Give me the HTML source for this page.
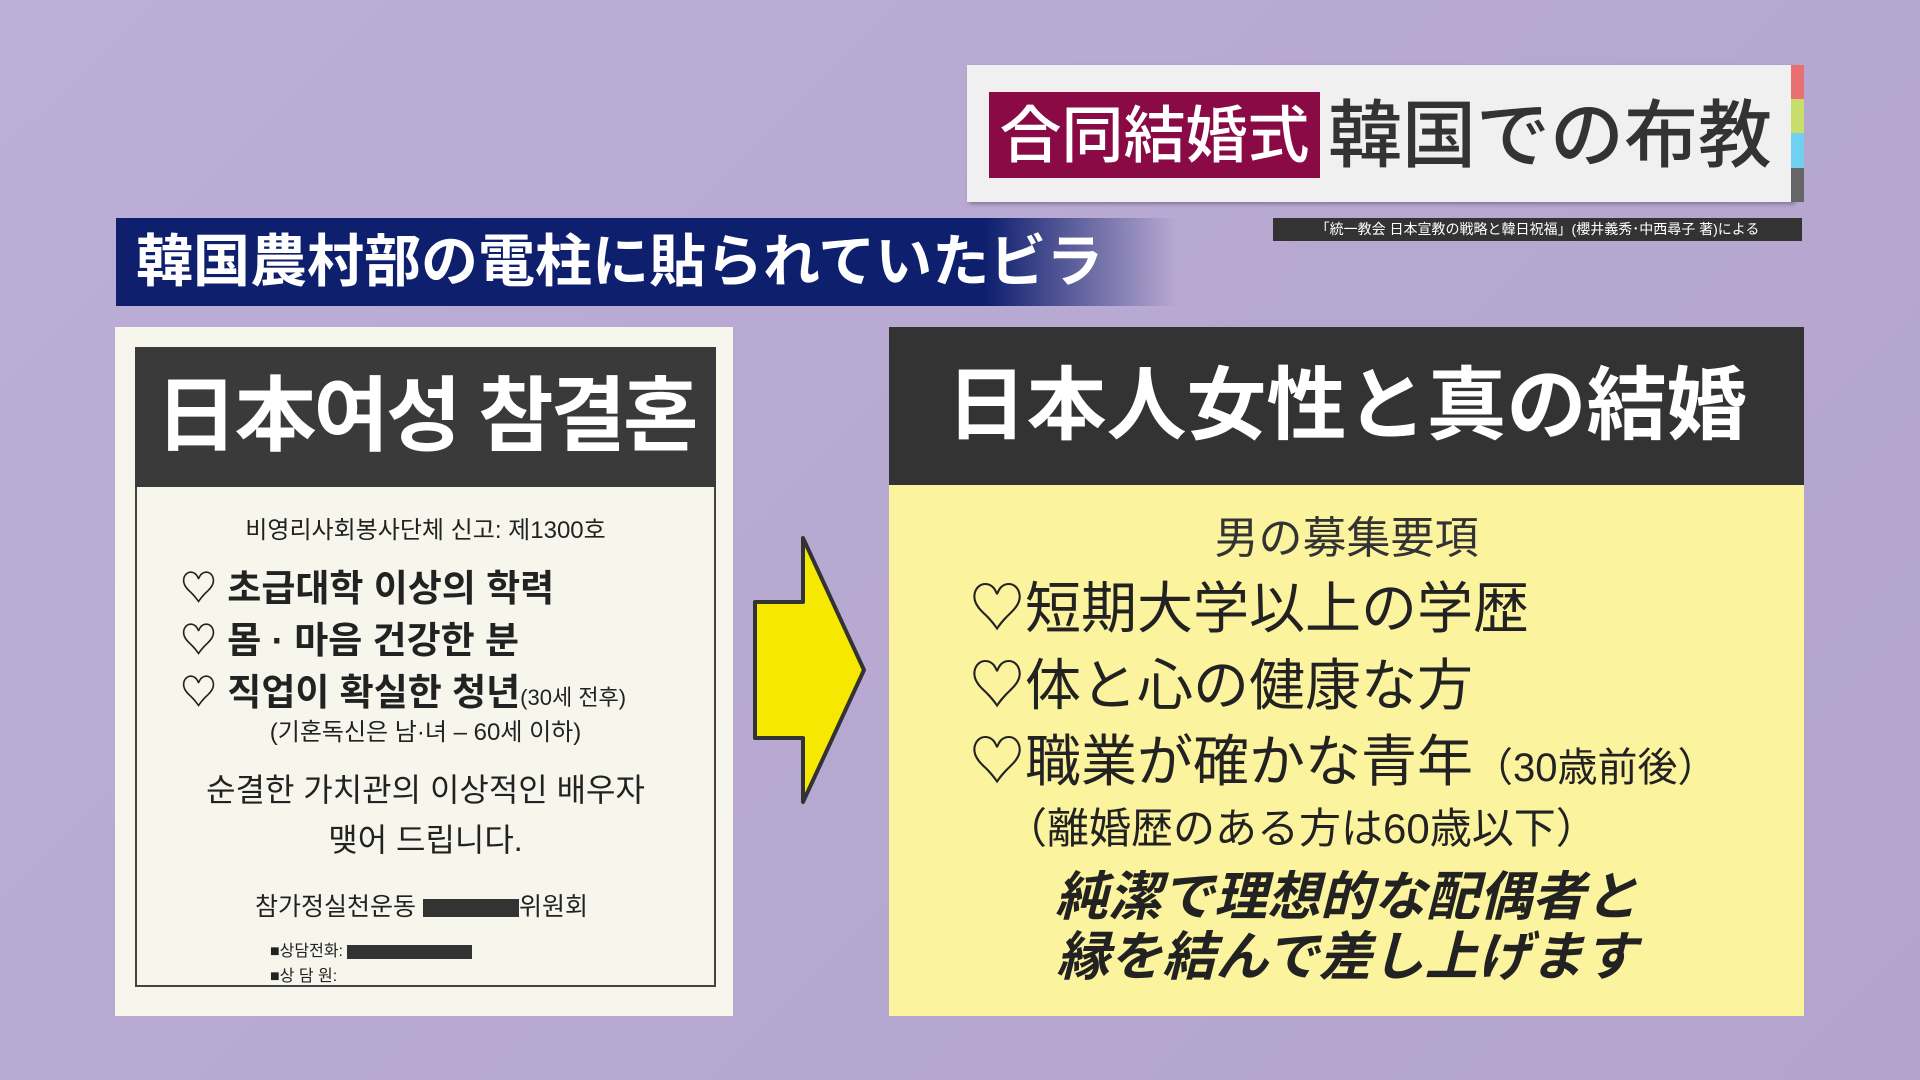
<!DOCTYPE html><html><head><meta charset="utf-8"><style>
body{margin:0;width:1920px;height:1080px;overflow:hidden;background:linear-gradient(135deg,#bcaed6,#b3a3cd);font-family:"Liberation Sans","Noto Sans CJK JP",sans-serif;position:relative}
div{position:absolute;box-sizing:border-box;white-space:nowrap}
.k{font-family:"Liberation Sans","Noto Sans CJK KR",sans-serif;font-weight:bold;color:#222}
</style></head><body>
<div style="left:967px;top:65px;width:826px;height:137px;background:#f0f0f0;box-shadow:2px 2px 4px rgba(0,0,0,.3)"></div>
<div style="left:1791px;top:65px;width:13px;height:34px;background:#e87070"></div>
<div style="left:1791px;top:99px;width:13px;height:34px;background:#c7df6a"></div>
<div style="left:1791px;top:133px;width:13px;height:35px;background:#6fd0ef"></div>
<div style="left:1791px;top:168px;width:13px;height:34px;background:#666"></div>
<div style="left:989px;top:92px;width:331px;height:86px;background:#8a0a46;color:#fff;font-size:62px;line-height:90px;text-align:center;font-weight:500">合同結婚式</div>
<div style="left:1328px;top:88px;width:460px;height:96px;color:#333;font-size:74px;line-height:96px;font-weight:500">韓国での布教</div>
<div style="left:1273px;top:218px;width:529px;height:23px;background:#333;color:#fff;font-size:14px;line-height:23px;text-align:center">「統一教会 日本宣教の戦略と韓日祝福」(櫻井義秀･中西尋子 著)による</div>
<div style="left:116px;top:218px;width:1060px;height:88px;background:linear-gradient(90deg,#0e1f6e 0%,#0e1f6e 82%,rgba(14,31,110,0) 100%);color:#fff;font-size:57px;line-height:88px;padding-left:20px;font-weight:bold">韓国農村部の電柱に貼られていたビラ</div>
<div style="left:115px;top:327px;width:618px;height:689px;background:#f7f6ec"></div>
<div style="left:135px;top:347px;width:581px;height:640px;border:2px solid #444"></div>
<div class="k" style="left:135px;top:347px;width:581px;height:140px;background:#3a3a3a;color:#fff;font-size:82px;line-height:140px;text-align:center;letter-spacing:-3px">日本여성 참결혼</div>
<div class="k" style="left:135px;top:510px;width:581px;text-align:center;font-size:24px;font-weight:normal">비영리사회봉사단체 신고: 제1300호</div>
<div class="k" style="left:180px;top:558px;font-size:37px">♡ 초급대학 이상의 학력</div>
<div class="k" style="left:180px;top:610px;font-size:37px">♡ 몸 · 마음 건강한 분</div>
<div class="k" style="left:180px;top:662px;font-size:37px">♡ 직업이 확실한 청년<span style="font-size:22px;font-weight:normal">(30세 전후)</span></div>
<div class="k" style="left:135px;top:712px;width:581px;text-align:center;font-size:24px;font-weight:normal">(기혼독신은 남·녀 – 60세 이하)</div>
<div class="k" style="left:135px;top:765px;width:581px;text-align:center;font-size:32px;line-height:50px;font-weight:normal;white-space:normal">순결한 가치관의 이상적인 배우자<br>맺어 드립니다.</div>
<div class="k" style="left:255px;top:887px;font-size:25px;font-weight:normal">참가정실천운동 <span style="display:inline-block;width:96px;height:18px;background:#333;vertical-align:middle"></span>위원회</div>
<div class="k" style="left:270px;top:937px;font-size:16px;font-weight:normal">■상담전화: <span style="display:inline-block;width:125px;height:14px;background:#333;vertical-align:middle"></span></div>
<div class="k" style="left:270px;top:962px;font-size:16px;font-weight:normal">■상 담 원:</div>
<svg style="position:absolute;left:750px;top:530px" width="124" height="280"><polygon points="5,72 53,72 53,8 114,140 53,272 53,208 5,208" fill="#f6e800" stroke="#333" stroke-width="4" stroke-linejoin="round"/></svg>
<div style="left:889px;top:327px;width:915px;height:689px;background:#fbf39e"></div>
<div style="left:889px;top:327px;width:915px;height:158px;background:#333;color:#fff;font-size:80px;line-height:158px;text-align:center;font-weight:bold">日本人女性と真の結婚</div>
<div style="left:889px;top:502px;width:915px;text-align:center;font-size:44px;color:#333">男の募集要項</div>
<div style="left:969px;top:578px;font-size:56px;color:#222;line-height:62px">♡短期大学以上の学歴</div>
<div style="left:969px;top:655px;font-size:56px;color:#222;line-height:62px">♡体と心の健康な方</div>
<div style="left:969px;top:731px;font-size:56px;color:#222;line-height:62px">♡職業が確かな青年<span style="font-size:40px">（30歳前後）</span></div>
<div style="left:1005px;top:795px;font-size:42px;color:#222">（離婚歴のある方は60歳以下）</div>
<div style="left:889px;top:868px;width:915px;text-align:center;font-size:53px;line-height:60px;color:#222;font-style:italic;font-weight:bold;white-space:normal">純潔で理想的な配偶者と<br>縁を結んで差し上げます</div>
</body></html>
